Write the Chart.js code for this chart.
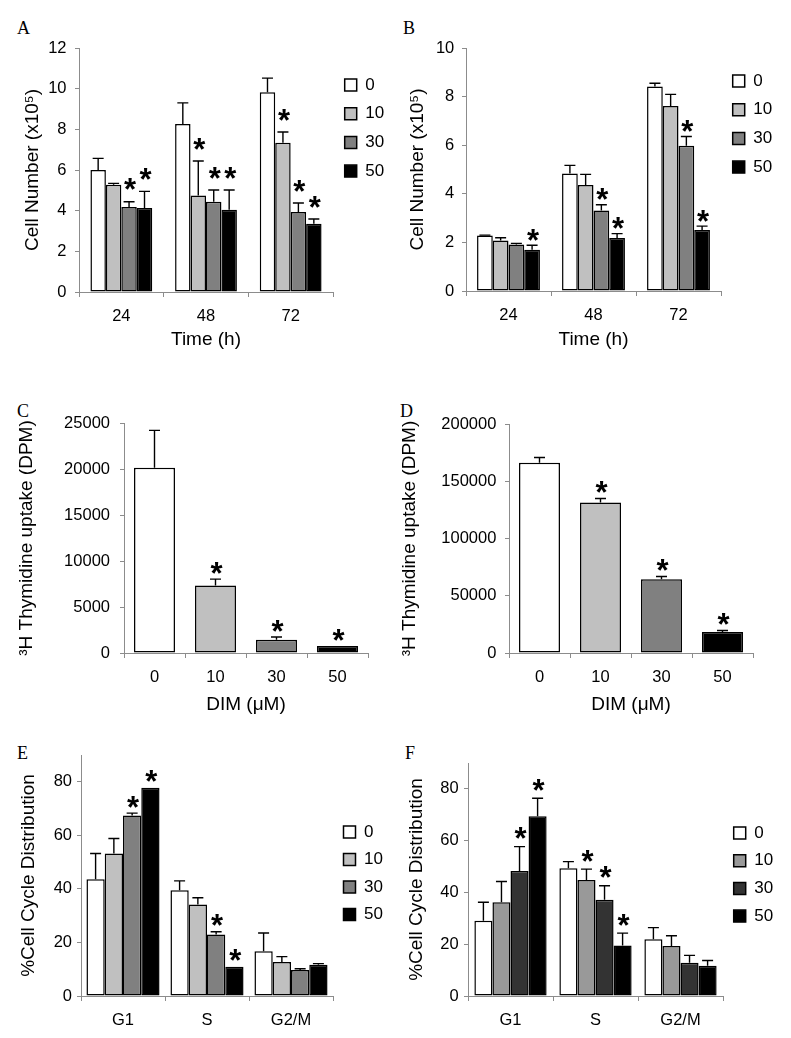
<!DOCTYPE html>
<html><head><meta charset="utf-8">
<script src="https://cdn.jsdelivr.net/npm/chart.js@4.4.1/dist/chart.umd.min.js"></script>
<style>
html,body{margin:0;padding:0;background:#fff}
body{width:791px;height:1038px;position:relative;overflow:hidden}
.p{position:absolute}
.lbl{position:absolute;font-family:"Liberation Serif","Times New Roman",serif;font-size:18px;line-height:1;color:#000}
</style></head><body>
<div class="lbl" style="left:17px;top:19px">A</div>
<div class="lbl" style="left:403px;top:19px">B</div>
<div class="lbl" style="left:17px;top:402px">C</div>
<div class="lbl" style="left:400px;top:402px">D</div>
<div class="lbl" style="left:17px;top:744px">E</div>
<div class="lbl" style="left:405px;top:744px">F</div>
<div class="p" id="wA"><canvas id="cA"></canvas></div>
<div class="p" id="wB"><canvas id="cB"></canvas></div>
<div class="p" id="wC"><canvas id="cC"></canvas></div>
<div class="p" id="wD"><canvas id="cD"></canvas></div>
<div class="p" id="wE"><canvas id="cE"></canvas></div>
<div class="p" id="wF"><canvas id="cF"></canvas></div>
<script>
// ---------- DATA ----------
const doseLabels = ['0', '10', '30', '50'];
const timeLabels = ['24', '48', '72'];
const phaseLabels = ['G1', 'S', 'G2/M'];

// Panel A: cell number (x10^5) by time, per dose
const A_d0 = [6.00, 8.26, 9.82];   const A_d0err = [0.57, 1.04, 0.70];
const A_d10 = [5.28, 4.75, 7.34];  const A_d10err = [0.06, 1.69, 0.53];
const A_d30 = [4.18, 4.44, 3.93];  const A_d30err = [0.26, 0.58, 0.45];
const A_d50 = [4.13, 4.05, 3.36];  const A_d50err = [0.82, 0.97, 0.23];
const A_sig0 = [0, 0, 0]; const A_sig10 = [0, 1, 1]; const A_sig30 = [1, 1, 1]; const A_sig50 = [1, 1, 1];

// Panel B
const B_d0 = [2.28, 4.84, 8.42];   const B_d0err = [0.02, 0.33, 0.13];
const B_d10 = [2.08, 4.36, 7.61];  const B_d10err = [0.11, 0.44, 0.48];
const B_d30 = [1.91, 3.31, 5.98];  const B_d30err = [0.05, 0.24, 0.38];
const B_d50 = [1.70, 2.18, 2.51];  const B_d50err = [0.18, 0.18, 0.16];
const B_sig0 = [0, 0, 0]; const B_sig10 = [0, 0, 0]; const B_sig30 = [0, 1, 1]; const B_sig50 = [1, 1, 1];

// Panel C: 3H thymidine uptake (DPM) by dose
const C_vals = [20130, 7340, 1450, 760];
const C_err = [4070, 690, 290, 0];
const C_sig = [0, 1, 1, 1];

// Panel D
const D_vals = [166100, 131400, 64500, 18400];
const D_err = [4700, 3500, 2300, 1200];
const D_sig = [0, 1, 1, 1];

// Panel E: % cell cycle distribution by phase, per dose
const E_d0 = [43.6, 39.5, 16.7];   const E_d0err = [9.6, 3.5, 6.8];
const E_d10 = [53.2, 34.2, 12.7];  const E_d10err = [5.6, 2.5, 2.0];
const E_d30 = [67.4, 23.0, 9.75];  const E_d30err = [0.9, 1.0, 0.4];
const E_d50 = [77.8, 10.9, 11.7];  const E_d50err = [0, 0, 0.4];
const E_sig0 = [0, 0, 0]; const E_sig10 = [0, 0, 0]; const E_sig30 = [1, 1, 0]; const E_sig50 = [1, 1, 0];

// Panel F
const F_d0 = [29.1, 49.3, 21.9];   const F_d0err = [7.1, 2.6, 4.5];
const F_d10 = [36.2, 44.8, 19.3];  const F_d10err = [8.0, 4.2, 4.0];
const F_d30 = [48.3, 37.2, 12.8];  const F_d30err = [9.4, 5.4, 2.9];
const F_d50 = [69.4, 19.5, 11.7];  const F_d50err = [7.0, 4.8, 2.0];
const F_sig0 = [0, 0, 0]; const F_sig10 = [0, 1, 0]; const F_sig30 = [1, 1, 0]; const F_sig50 = [1, 1, 0];

// ---------- STYLE ----------
const FONT = '"Liberation Sans", Arial, Helvetica, sans-serif';
const palette1 = ['#ffffff', '#c0c0c0', '#808080', '#000000'];
const palette2 = ['#ffffff', '#999999', '#333333', '#000000'];
Chart.defaults.font.family = FONT;
Chart.defaults.color = '#000';
Chart.defaults.animation = false;

const errPlugin = {
  id: 'errs',
  afterDatasetsDraw(chart, args, opts) {
    const ctx = chart.ctx, ys = chart.scales.y;
    ctx.save();
    chart.data.datasets.forEach((ds, di) => {
      const meta = chart.getDatasetMeta(di);
      meta.data.forEach((bar, i) => {
        const v = ds.data[i];
        const e = ds.errors ? ds.errors[i] : 0;
        let top = ys.getPixelForValue(v);
        if (e > 0) {
          const yt = ys.getPixelForValue(v + e);
          ctx.strokeStyle = '#000';
          ctx.lineWidth = 1.4;
          ctx.beginPath();
          ctx.moveTo(bar.x, top); ctx.lineTo(bar.x, yt);
          ctx.moveTo(bar.x - opts.cap, yt); ctx.lineTo(bar.x + opts.cap, yt);
          ctx.stroke();
          top = yt;
        }
        if (ds.stars && ds.stars[i]) {
          ctx.fillStyle = '#000';
          ctx.font = 'bold ' + opts.starSize + 'px ' + FONT;
          ctx.textAlign = 'center';
          ctx.textBaseline = 'alphabetic';
          ctx.fillText('*', bar.x + 1, top - opts.starOffset + 0.57 * opts.starSize);
        }
      });
    });
    ctx.restore();
  }
};

function groupSets(vals, errs, sigs, colors) {
  return vals.map((v, k) => ({
    label: doseLabels[k], data: v, errors: errs[k], stars: sigs[k],
    backgroundColor: colors[k], borderColor: '#000', borderWidth: 1.5, borderSkipped: false
  }));
}

function barChart(id, o) {
  const box = o.box, area = o.area;
  const w = document.getElementById('w' + id);
  w.style.left = box.x + 'px'; w.style.top = box.y + 'px';
  w.style.width = box.w + 'px'; w.style.height = box.h + 'px';
  const legendW = o.legend ? 56 : 0;
  const tickFont = {size: 16.5};
  const titleSize = 19, tlh = titleSize * 1.2;
  const legendFont = 17;
  const cfg = {
    type: 'bar',
    data: {labels: o.labels, datasets: o.datasets},
    options: {
      responsive: true, maintainAspectRatio: false, animation: false,
      layout: {padding: {left: 0, top: area.t - box.y, right: box.x + box.w - area.r - legendW, bottom: 0}},
      datasets: {bar: {categoryPercentage: o.catPct, barPercentage: 1}},
      scales: {
        x: {
          grid: {display: true, drawOnChartArea: false, drawTicks: true, tickLength: 5, color: '#8c8c8c', offset: true},
          border: {display: true, color: '#8c8c8c', width: 1},
          ticks: {font: tickFont, padding: o.xPad, color: '#000'},
          title: o.xTitle ? {display: true, text: o.xTitle, color: '#000', font: {size: titleSize},
            padding: {top: 0, bottom: box.y + box.h - o.xTitleCy - tlh / 2}} : {display: false},
          afterFit: s => { s.height = box.y + box.h - area.b; }
        },
        y: {
          min: 0, max: o.max,
          grid: {display: true, drawOnChartArea: false, drawTicks: true, tickLength: 4, color: '#8c8c8c'},
          border: {display: true, color: '#8c8c8c', width: 1},
          ticks: {stepSize: o.step, font: tickFont, padding: o.yPad, color: '#000', callback: v => String(v)},
          title: {display: true, text: o.yTitle, color: '#000', font: {size: titleSize},
            padding: {top: o.yTitleCx - box.x - tlh / 2, bottom: 0}},
          afterFit: s => { s.width = area.l - box.x; },
          afterBuildTicks: s => { if (o.tickMax !== undefined) s.ticks = s.ticks.filter(t => t.value <= o.tickMax); }
        }
      },
      plugins: {
        legend: o.legend ? {
          display: true, position: 'right', fullSize: false, align: 'start', maxWidth: legendW,
          title: {display: true, text: ' ', font: {size: 1, lineHeight: 1},
            padding: {top: o.legend.firstCy - legendFont / 2 - area.t - o.legend.pad - 1, bottom: 0}},
          labels: {font: {size: legendFont}, boxWidth: 12, boxHeight: 12, padding: o.legend.pad, color: '#000'}
        } : {display: false},
        tooltip: {enabled: false},
        errs: {starOffset: o.starOffset, starSize: 31, cap: 5.5}
      }
    },
    plugins: [errPlugin]
  };
  return new Chart(document.getElementById('c' + id), cfg);
}

// A
barChart('A', {
  box: {x: 0, y: 0, w: 395, h: 365}, area: {l: 79, t: 48, r: 333, b: 292},
  labels: timeLabels,
  datasets: groupSets([A_d0, A_d10, A_d30, A_d50], [A_d0err, A_d10err, A_d30err, A_d50err], [A_sig0, A_sig10, A_sig30, A_sig50], palette1),
  catPct: 0.73, max: 12, step: 2, yPad: 8.5, xPad: 10,
  yTitle: 'Cell Number (x10\u2075)', yTitleCx: 33, xTitle: 'Time (h)', xTitleCy: 340,
  legend: {firstCy: 85, pad: 11.7}, starOffset: 19
});
// B
barChart('B', {
  box: {x: 395, y: 0, w: 396, h: 365}, area: {l: 466, t: 48, r: 721, b: 291},
  labels: timeLabels,
  datasets: groupSets([B_d0, B_d10, B_d30, B_d50], [B_d0err, B_d10err, B_d30err, B_d50err], [B_sig0, B_sig10, B_sig30, B_sig50], palette1),
  catPct: 0.74, max: 10, step: 2, yPad: 7.7, xPad: 10,
  yTitle: 'Cell Number (x10\u2075)', yTitleCx: 418, xTitle: 'Time (h)', xTitleCy: 340,
  legend: {firstCy: 81, pad: 11.7}, starOffset: 12
});
// C
barChart('C', {
  box: {x: 0, y: 365, w: 395, h: 360}, area: {l: 124, t: 423, r: 368, b: 653},
  labels: doseLabels,
  datasets: [{label: 'DPM', data: C_vals, errors: C_err, stars: C_sig, backgroundColor: palette1,
    borderColor: '#000', borderWidth: 1.5, borderSkipped: false}],
  catPct: 0.672, max: 25000, step: 5000, yPad: 10, xPad: 9.5,
  yTitle: '\u00b3H Thymidine uptake (DPM)', yTitleCx: 27, xTitle: 'DIM (\u03bcM)', xTitleCy: 705,
  legend: null, starOffset: 13
});
// D
barChart('D', {
  box: {x: 395, y: 365, w: 396, h: 360}, area: {l: 509, t: 424, r: 753, b: 653},
  labels: doseLabels,
  datasets: [{label: 'DPM', data: D_vals, errors: D_err, stars: D_sig, backgroundColor: palette1,
    borderColor: '#000', borderWidth: 1.5, borderSkipped: false}],
  catPct: 0.672, max: 200000, step: 50000, yPad: 8.6, xPad: 9.5,
  yTitle: '\u00b3H Thymidine uptake (DPM)', yTitleCx: 410, xTitle: 'DIM (\u03bcM)', xTitleCy: 705,
  legend: null, starOffset: 13
});
// E
barChart('E', {
  box: {x: 0, y: 725, w: 395, h: 313}, area: {l: 81, t: 755, r: 333, b: 996},
  labels: phaseLabels,
  datasets: groupSets([E_d0, E_d10, E_d30, E_d50], [E_d0err, E_d10err, E_d30err, E_d50err], [E_sig0, E_sig10, E_sig30, E_sig50], palette1),
  catPct: 0.87, max: 90, step: 20, tickMax: 80, yPad: 5, xPad: 10,
  yTitle: '%Cell Cycle Distribution', yTitleCx: 29, xTitle: null,
  legend: {firstCy: 832, pad: 10.5}, starOffset: 13
});
// F
barChart('F', {
  box: {x: 395, y: 725, w: 396, h: 313}, area: {l: 468, t: 763, r: 723, b: 996},
  labels: phaseLabels,
  datasets: groupSets([F_d0, F_d10, F_d30, F_d50], [F_d0err, F_d10err, F_d30err, F_d50err], [F_sig0, F_sig10, F_sig30, F_sig50], palette2),
  catPct: 0.85, max: 90, step: 20, tickMax: 80, yPad: 5.3, xPad: 10,
  yTitle: '%Cell Cycle Distribution', yTitleCx: 417, xTitle: null,
  legend: {firstCy: 833, pad: 10.7}, starOffset: 15
});
</script>
</body></html>
